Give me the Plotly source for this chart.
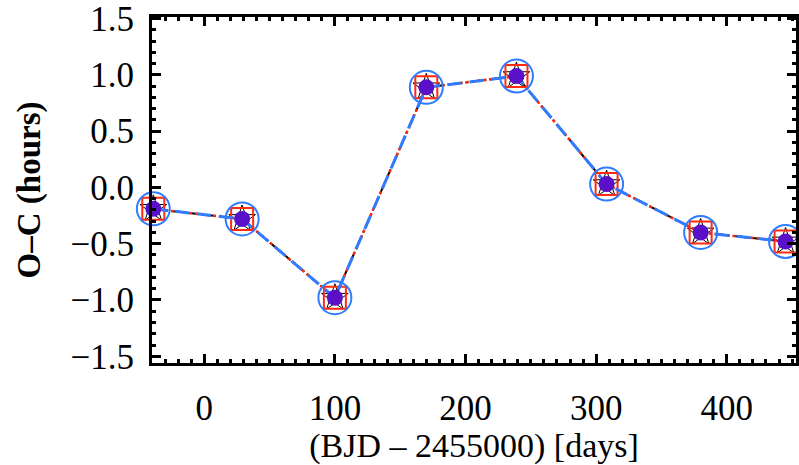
import plotly.graph_objects as go

# Data (BJD - 2455000 days, O-C hours)
epochs = [-39, 29, 100, 170, 239, 308, 380, 445]
oc_observed = [-0.19, -0.28, -0.98, 0.89, 0.99, 0.03, -0.40, -0.48]
oc_model_a = [-0.19, -0.28, -0.98, 0.89, 0.99, 0.03, -0.40, -0.48]
oc_model_b = [-0.19, -0.28, -0.98, 0.89, 0.99, 0.03, -0.40, -0.48]
oc_model_c = [-0.19, -0.28, -0.98, 0.89, 0.99, 0.03, -0.40, -0.48]

x_ticks = [0, 100, 200, 300, 400]
y_ticks = [-1.5, -1.0, -0.5, 0.0, 0.5, 1.0, 1.5]
y_ticktext = ["\u22121.5", "\u22121.0", "\u22120.5", "0.0", "0.5", "1.0", "1.5"]

BLUE = "#2f7cff"
RED = "#ff2a10"
PURPLE = "#5a10c8"
FONT = "Liberation Serif"

fig = go.Figure()
fig.add_trace(go.Scatter(x=epochs, y=oc_model_c, mode="lines+markers",
                         line=dict(color="black", width=2, dash="dashdot"),
                         marker=dict(symbol="star-open", size=20, color="black",
                                     line=dict(width=1, color="black")),
                         cliponaxis=False, showlegend=False))
fig.add_trace(go.Scatter(x=epochs, y=oc_model_b, mode="lines+markers",
                         line=dict(color=RED, width=2.5, dash="dot"),
                         marker=dict(symbol="square-open", size=22, color=RED,
                                     line=dict(width=2, color=RED)),
                         cliponaxis=False, showlegend=False))
fig.add_trace(go.Scatter(x=epochs, y=oc_model_a, mode="lines+markers",
                         line=dict(color=BLUE, width=3, dash="14px,8px"),
                         marker=dict(symbol="circle-open", size=33, color=BLUE,
                                     line=dict(width=2, color=BLUE)),
                         cliponaxis=False, showlegend=False))
fig.add_trace(go.Scatter(x=epochs, y=oc_observed, mode="markers",
                         marker=dict(symbol="circle", size=16, color=PURPLE),
                         cliponaxis=False, showlegend=False))

axis_common = dict(
    showgrid=False, zeroline=False, showline=True, linecolor="black", linewidth=3,
    mirror="ticks", ticks="inside", ticklen=9, tickwidth=2.5, tickcolor="black",
    tickfont=dict(family=FONT, size=35, color="black"),
)

fig.update_xaxes(**axis_common, range=[-40, 453], tickvals=x_ticks,
                 ticklabelstandoff=12,
                 minor=dict(ticks="inside", dtick=10, ticklen=4, tickwidth=2.5, tickcolor="black"),
                 title=dict(text="(BJD \u2013 2455000) [days]",
                            font=dict(family=FONT, size=34, color="black"), standoff=0))
fig.update_yaxes(**axis_common, range=[-1.56, 1.515], tickvals=y_ticks, ticktext=y_ticktext,
                 ticklabelstandoff=8, ticklabeloverflow="allow",
                 minor=dict(ticks="inside", dtick=0.1, ticklen=4, tickwidth=2.5, tickcolor="black"),
                 title=dict(text="<b>O\u2013C (hours)</b>",
                            font=dict(family=FONT, size=33, color="black"), standoff=20))

fig.update_layout(width=799, height=465, margin=dict(l=152, r=0, t=12, b=102),
                  plot_bgcolor="white", paper_bgcolor="white")

fig.write_html("out.html")
